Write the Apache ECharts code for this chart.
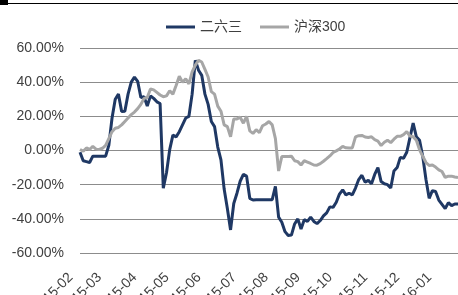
<!DOCTYPE html>
<html>
<head>
<meta charset="utf-8">
<script src="https://cdn.jsdelivr.net/npm/echarts@6/dist/echarts.min.js"></script>
<style>
  html, body { margin: 0; padding: 0; background: #fff; }
  #chart { width: 458px; height: 295px; }
</style>
</head>
<body>
<div id="chart"></div>
<script>
// 月份标签 + 每月第一个数据点的位置（交易日序号）
const months     = ['15-02', '15-03', '15-04', '15-05', '15-06', '15-07', '15-08', '15-09', '15-10', '15-11', '15-12', '16-01']
const monthStart = [0, 9, 20, 30, 40, 51, 61, 71, 81, 92, 102, 112]

// 二六三 累计涨跌幅 (%)
const stock263 = [
  -1, -6, -6.5, -7, -3.3, -3.3, -3.3, -3.3, -3.3, 3,
  19, 30, 33, 22.8, 23, 33, 40, 43, 40.5, 31,
  31.5, 26, 32, 30.5, 28.5, 27.5, -22, -13, 0.5, 9,
  8, 11, 15, 19, 20, 33, 52.8, 47, 44, 33,
  27, 17, 14, 2, -5.5, -22.6, -34, -46.5, -31, -25,
  -18, -14, -15, -28, -29, -28.8, -28.8, -28.8, -28.8, -28.8,
  -28.8, -21, -39, -42, -47.5, -49.7, -49.5, -43, -40, -46,
  -40.5, -41.5, -39, -41.5, -42.8, -41, -38.3, -36.5, -33, -33.3,
  -30.3, -25.5, -23, -26, -25, -26, -22, -17, -14.5, -18.5,
  -17.5, -19.5, -14, -10, -18.2, -19.5, -20, -22, -12, -10,
  -4, -4.5, -1, 7.5, 16, 8, 6, -3.5, -17, -28,
  -23.5, -24, -29, -31.5, -34, -30.5, -32.3, -31.3, -31.3,
]

// 沪深300 累计涨跌幅 (%)
const hs300 = [
  0.6, -0.4, 1.5, 0.6, 2.4, 0.8, 0.6, 1.3, 3, 7,
  11, 13, 13.5, 15, 17, 19, 21, 22.5, 24.5, 27,
  30.5, 31, 36, 35.5, 34, 32.5, 31.5, 32, 35, 33,
  38, 43.5, 40, 42, 39, 46, 50, 52.8, 51.8, 47.5,
  43, 34.5, 33, 26, 23, 15, 14, 8, 18.5, 18.5,
  19.5, 16, 20, 11.5, 10, 12.2, 10.5, 14.5, 15.5, 17,
  15, 7, -12, -3.5, -3.5, -3.5, -3.3, -6, -6.5, -8.5,
  -6, -6.8, -7.6, -8.5, -8.6, -7.7, -6.3, -4.8, -3.2, -1.2,
  -0.2, 0.9, 2.4, 1.6, 1.5, 1.5, 8, 8.7, 8.8, 7.9,
  7.6, 8, 6.4, 5.5, 2.9, 4.8, 6, 4.6, 6.6, 8.3,
  8.3, 9.3, 11, 8.5, 8.1, 6, 0.4, -3.4, -7, -8.8,
  -8.5, -9.7, -11.3, -12.3, -15.8, -15, -15, -15.5, -15.8,
]

// 类目：每个交易日一个，名字 = 所在月份 + 序号
const days = stock263.map((_, i) => {
  let m = 0
  while (m + 1 < monthStart.length && monthStart[m + 1] <= i) m++
  return months[m] + '#' + (i - monthStart[m])
})

const FONT = '"Liberation Sans", "Noto Sans CJK SC", sans-serif'
const TEXT_COLOR = '#404040'

const chart = echarts.init(document.getElementById('chart'))

chart.setOption({
  animation: false,
  textStyle: { fontFamily: FONT },
  legend: {
    data: ['二六三', '沪深300'],
    left: 161,
    top: 15,
    icon: 'rect',
    itemWidth: 29,
    itemHeight: 3,
    itemGap: 18,
    textStyle: { fontSize: 14, color: TEXT_COLOR, fontFamily: FONT },
  },
  grid: { left: 80, right: 0, top: 48, bottom: 42, outerBoundsMode: 'none' },
  xAxis: {
    type: 'category',
    data: days,
    boundaryGap: false,
    axisLine: { show: false },
    axisTick: { show: false },
    axisLabel: {
      interval: (idx) => monthStart.includes(idx),
      formatter: (v) => v.split('#')[0],
      rotate: 45,
      margin: 13,
      padding: [0, 13, 0, 0],
      fontSize: 14,
      color: TEXT_COLOR,
      fontFamily: FONT,
    },
  },
  yAxis: {
    type: 'value',
    min: -60, max: 60, interval: 20,
    axisLine: { show: false },
    axisTick: { show: false },
    axisLabel: {
      formatter: (v) => v.toFixed(2) + '%',
      margin: 16,
      fontSize: 14,
      color: TEXT_COLOR,
      fontFamily: FONT,
    },
    splitLine: { lineStyle: { color: '#8c8c8c', width: 1 } },
  },
  series: [
    {
      name: '二六三',
      type: 'line',
      data: stock263,
      symbol: 'none',
      lineStyle: { color: '#1f3864', width: 3 },
      itemStyle: { color: '#1f3864' },
    },
    {
      name: '沪深300',
      type: 'line',
      data: hs300,
      symbol: 'none',
      lineStyle: { color: '#a6a6a6', width: 3 },
      itemStyle: { color: '#a6a6a6' },
    },
  ],
  // 顶部截图留下的黑边
  graphic: [
    { type: 'rect', shape: { x: 0, y: 0, width: 8, height: 5 }, style: { fill: '#000' } },
    { type: 'line', shape: { x1: 0, y1: 3.5, x2: 458, y2: 3.5 }, style: { stroke: '#000', lineWidth: 1.2 } },
  ],
})
</script>
</body>
</html>
